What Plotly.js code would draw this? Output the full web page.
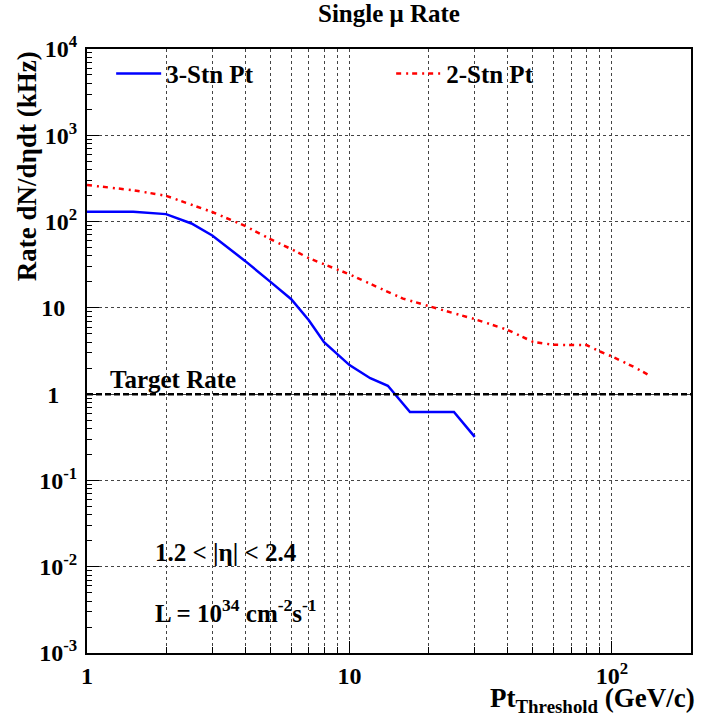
<!DOCTYPE html>
<html>
<head>
<meta charset="utf-8">
<script src="https://cdn.plot.ly/plotly-3.0.1.min.js"></script>
<style>html,body{margin:0;padding:0;background:#fff;}#chart{width:703px;height:723px;}</style>
</head>
<body>
<div id="chart"></div>
<script>
// 3-station Pt assignment
const pt3 = [1, 1.5, 2, 2.5, 3, 4, 5, 6, 7, 8, 10, 12, 14, 17, 25, 30];
const rate3 = [130, 130, 122, 95, 69, 35, 20, 12.6, 7.2, 4.0, 2.17, 1.53, 1.25, 0.62, 0.62, 0.32];
// 2-station Pt assignment
const pt2 = [1, 1.5, 2, 3, 4, 5, 6, 7, 8, 10, 14, 16, 20, 30, 40, 50, 60, 70, 80, 90, 100, 120, 140];
const rate2 = [265, 231, 199, 129, 89, 62.5, 48, 37.7, 32, 24.5, 15.3, 12.8, 10.5, 7.4, 5.56, 4.04, 3.73, 3.7, 3.7, 3.12, 2.73, 2.1, 1.63];
// target rate line
const targetX = [1, 200];
const targetRate = [1, 1];
// tick labels
const xTickVals = [1, 10, 100];
const xTickText = ["1", "10", "10<sup>2</sup>"];
const yTickVals = [1e-3, 1e-2, 1e-1, 1, 10, 100, 1000, 10000];
const yTickText = ["10<sup>-3</sup>", "10<sup>-2</sup>", "10<sup>-1</sup>", "1\u00a0\u00a0\u00a0", "10\u00a0\u00a0", "10<sup>2</sup>", "10<sup>3</sup>", "10<sup>4</sup>"];

const FF = "Liberation Serif";
const bold = (size, color) => ({family: FF, size: size, color: color || "#000", weight: "bold"});

const traces = [
  {x: pt3, y: rate3, type: "scatter", mode: "lines", name: "3-Stn Pt",
   line: {color: "#0000ff", width: 2.5}},
  {x: pt2, y: rate2, type: "scatter", mode: "lines", name: "2-Stn Pt",
   line: {color: "#ff0000", width: 2.5, dash: "5px,5px,2px,4px"}},
  {x: targetX, y: targetRate, type: "scatter", mode: "lines", name: "Target Rate",
   showlegend: false, line: {color: "#000", width: 2.5, dash: "6px,3px"}}
];

const layout = {
  width: 703, height: 723,
  margin: {l: 87, r: 12, t: 49, b: 70},
  paper_bgcolor: "#fff", plot_bgcolor: "#fff",
  font: bold(24),
  title: {text: "Single \u03bc Rate", font: bold(25), x: 0.5, xanchor: "center",
          xref: "paper", y: 0.981, yref: "container", yanchor: "middle"},
  showlegend: true,
  legend: {orientation: "h", x: 0.04, xanchor: "left", y: 0.959, yanchor: "middle",
           font: bold(25), bgcolor: "rgba(0,0,0,0)", borderwidth: 0,
           itemwidth: 45, entrywidth: 220, entrywidthmode: "pixels", traceorder: "normal"},
  xaxis: {type: "log", range: [0, Math.log10(200)], showline: true, linecolor: "#000",
          linewidth: 2, mirror: true, ticks: "inside", ticklen: 12, tickwidth: 1, tickcolor: "#000",
          tickmode: "array", tickvals: xTickVals, ticktext: xTickText, tickfont: bold(24),
          ticklabelstandoff: 0,
          showgrid: true, gridcolor: "#444", griddash: "dot", gridwidth: 1, zeroline: false,
          minor: {dtick: "D1", ticks: "inside", ticklen: 6, tickcolor: "#000", tickwidth: 1,
                  showgrid: true, gridcolor: "#444", griddash: "dot", gridwidth: 1}},
  yaxis: {type: "log", range: [-3, 4], showline: true, linecolor: "#000",
          linewidth: 2, mirror: true, ticks: "inside", ticklen: 12, tickwidth: 1, tickcolor: "#000",
          tickmode: "array", tickvals: yTickVals, ticktext: yTickText, tickfont: bold(24),
          ticklabelstandoff: 3,
          showgrid: true, gridcolor: "#444", griddash: "dot", gridwidth: 1, zeroline: false,
          minor: {dtick: "D1", ticks: "inside", ticklen: 5, tickcolor: "#000", tickwidth: 1,
                  showgrid: false}},
  annotations: [
    {text: "Rate dN/d\u03b7dt (kHz)", xref: "paper", yref: "paper", x: -0.099, y: 1.0,
     xanchor: "center", yanchor: "top", textangle: -90, showarrow: false, font: bold(27)},
    {text: "Pt<sub>Threshold</sub> (GeV/c)", xref: "paper", yref: "paper", x: 1.01, y: -0.078,
     xanchor: "right", yanchor: "middle", showarrow: false, font: bold(27)},
    {text: "Target Rate", xref: "paper", yref: "paper", x: 0.035, y: 0.452,
     xanchor: "left", yanchor: "middle", showarrow: false, font: bold(25)},
    {text: "1.2 < |\u03b7| < 2.4", xref: "paper", yref: "paper", x: 0.109, y: 0.166,
     xanchor: "left", yanchor: "middle", showarrow: false, font: bold(25)},
    {text: "L = 10<sup>34</sup> cm<sup>-2</sup>s<sup>-1</sup>", xref: "paper", yref: "paper", x: 0.109, y: 0.07,
     xanchor: "left", yanchor: "middle", showarrow: false, font: bold(25)}
  ]
};

Plotly.newPlot("chart", traces, layout, {displayModeBar: false, staticPlot: true});
</script>
</body>
</html>
